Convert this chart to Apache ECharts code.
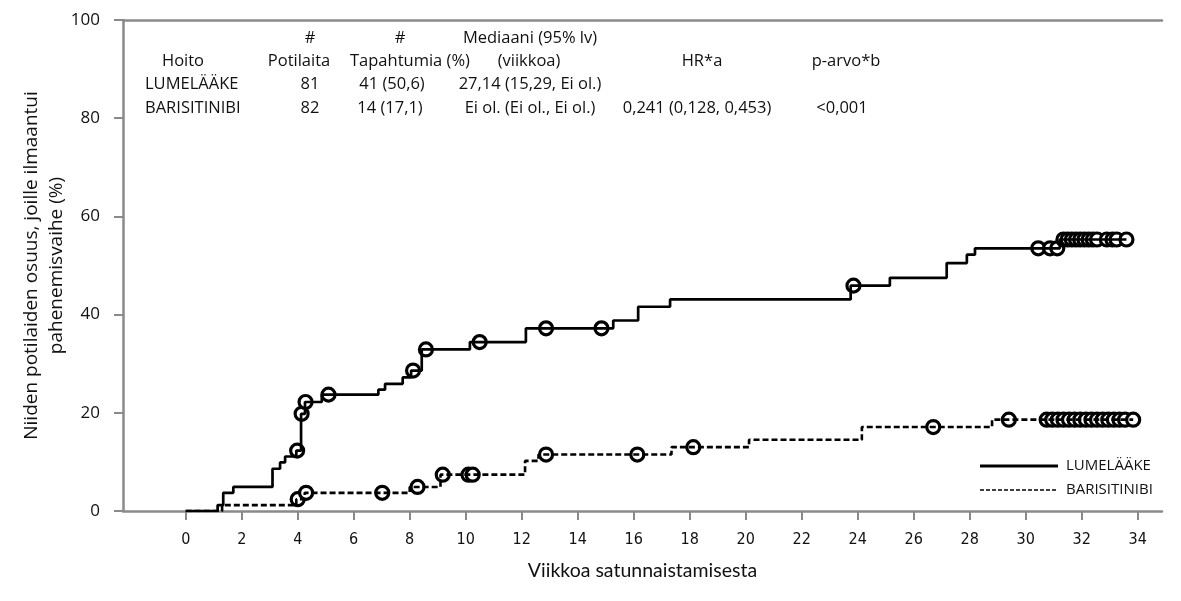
<!DOCTYPE html>
<html>
<head>
<meta charset="utf-8">
<script src="https://cdn.jsdelivr.net/npm/echarts@6/dist/echarts.min.js"></script>
<style>
html,body{margin:0;padding:0;background:#fff;}
#chart{width:1181px;height:601px;}
</style>
</head>
<body>
<div id="chart"></div>
<script>
// ---- data ----
const xTicks = [0,2,4,6,8,10,12,14,16,18,20,22,24,26,28,30,32,34];
const yTicks = [0,20,40,60,80,100];

// Kaplan-Meier steps: [week, cumulative %]
const lumeSteps = [[0,0],[1.14,1.2],[1.34,3.7],[1.7,4.9],[3.1,8.6],[3.37,9.9],[3.55,11.1],[3.95,12.3],[4.12,19.8],[4.26,22.2],[4.86,23.7],[6.88,24.7],[7.12,25.9],[7.75,27.2],[8.05,28.6],[8.43,32.9],[10.15,34.4],[12.15,37.2],[15.27,38.8],[16.16,41.6],[17.3,43.1],[23.75,45.9],[25.15,47.5],[27.18,50.5],[27.9,52.2],[28.19,53.5],[31.22,55.3],[33.6,55.3]];
const bariSteps = [[0,0],[1.3,1.2],[3.95,2.4],[4.25,3.7],[8.0,4.9],[9.1,7.4],[12.12,10.2],[12.6,11.5],[17.35,13.0],[20.12,14.5],[24.15,17.1],[28.8,18.6],[33.84,18.6]];

// censored observations (weeks)
const lumeCensor = [3.98,4.14,4.28,5.1,8.12,8.58,10.5,12.87,14.85,23.85,30.45,30.87,31.13,31.35,31.5,31.65,31.8,31.95,32.1,32.25,32.4,32.55,32.9,33.1,33.25,33.6];
const bariCensor = [4.0,4.3,7.02,8.28,9.18,10.1,10.25,12.87,16.13,18.13,26.7,29.4,30.75,30.95,31.15,31.35,31.55,31.75,31.95,32.15,32.35,32.55,32.75,32.95,33.15,33.35,33.55,33.84];

const seriesNames = ['LUMELÄÄKE','BARISITINIBI'];

// risk table
const tableHead1 = ['', '#', '#', 'Mediaani (95% lv)', '', ''];
const tableHead2 = ['Hoito', 'Potilaita', 'Tapahtumia (%)', '(viikkoa)', 'HR*a', 'p-arvo*b'];
const rowLume = ['LUMELÄÄKE', '81', '41 (50,6)', '27,14 (15,29, Ei ol.)', '', ''];
const rowBari = ['BARISITINIBI', '82', '14 (17,1)', 'Ei ol. (Ei ol., Ei ol.)', '0,241 (0,128, 0,453)', '<0,001'];

const xTitle = 'Viikkoa satunnaistamisesta';
const yTitle = 'Niiden potilaiden osuus, joille ilmaantui\npahenemisvaihe (%)';

// ---- helpers ----
function valueAt(steps, t){
  let v = 0;
  for (const s of steps){ if (s[0] <= t) v = s[1]; }
  return v;
}
const lumeCensorPts = lumeCensor.map(t => [t, valueAt(lumeSteps, t)]);
const bariCensorPts = bariCensor.map(t => [t, valueAt(bariSteps, t)]);

const FONT = '"Open Sans", "Noto Sans", sans-serif';
const NARROW = '"DejaVu Sans Condensed", "Liberation Sans Narrow", Lato, sans-serif';
const TXT = '#111';
const AX = '#8a8a8a';
const tableFont = 16.5;

// table layout (pixel positions of cells)
const colX = [
  {h1:null, h2:[183,'center'], r1:[145,'left'], r2:[145,'left']},
  {h1:[310,'center'], h2:[299,'center'], r1:[310,'center'], r2:[310,'center']},
  {h1:[400,'center'], h2:[350,'left'], r1:[392,'center'], r2:[390,'center']},
  {h1:[530,'center'], h2:[529,'center'], r1:[530,'center'], r2:[530,'center']},
  {h1:null, h2:[702,'center'], r1:null, r2:[697,'center']},
  {h1:null, h2:[846,'center'], r1:null, r2:[842,'center']}
];
const rowY = {h1:38, h2:61, r1:84, r2:108};
const rowsText = {h1:tableHead1, h2:tableHead2, r1:rowLume, r2:rowBari};
const graphics = [];
for (let c = 0; c < colX.length; c++){
  for (const key of ['h1','h2','r1','r2']){
    const txt = rowsText[key][c];
    const pos = colX[c][key];
    if (!txt || !pos) continue;
    graphics.push({
      type:'text', x:pos[0], y:rowY[key],
      style:{text:txt, fill:TXT, font:`${tableFont}px ${FONT}`, textAlign:pos[1], textVerticalAlign:'middle'}
    });
  }
}
// legend (drawn manually)
const legendRows = [
  {y:466, lw:3, dash:null},
  {y:490, lw:1.5, dash:[4,2]}
];
legendRows.forEach((r, i) => {
  graphics.push({type:'line', shape:{x1:980, y1:r.y, x2:1058, y2:r.y},
    style:{stroke:'#000', lineWidth:r.lw, lineDash:r.dash}});
  graphics.push({type:'text', x:1066, y:r.y,
    style:{text:seriesNames[i], fill:TXT, font:`15px ${FONT}`, textAlign:'left', textVerticalAlign:'middle'}});
});

const chart = echarts.init(document.getElementById('chart'));
chart.setOption({
  animation:false,
  backgroundColor:'#fff',
  grid:{left:123, right:19, top:20, bottom:90},
  xAxis:[{
    type:'value', min:-2.24, max:34.87, position:'bottom',
    name:xTitle, nameLocation:'middle', nameGap:50, nameMoveOverlap:false,
    nameTextStyle:{fontFamily:'Lato', fontSize:19.5, color:TXT},
    axisLine:{onZero:false, lineStyle:{color:AX, width:2.5}},
    axisTick:{show:true, customValues:xTicks, length:9, lineStyle:{color:AX, width:2}},
    axisLabel:{customValues:xTicks, fontFamily:NARROW, fontSize:16, color:TXT, margin:21},
    splitLine:{show:false}
  },{
    type:'value', min:-2.24, max:34.87, position:'top',
    axisLine:{show:true, onZero:false, lineStyle:{color:AX, width:2.5}},
    axisTick:{show:false}, axisLabel:{show:false}, splitLine:{show:false}
  }],
  yAxis:{
    type:'value', min:0, max:100, interval:20,
    name:yTitle, nameLocation:'middle', nameGap:54, nameRotate:90, nameMoveOverlap:false,
    nameTextStyle:{fontFamily:FONT, fontSize:19, color:TXT, lineHeight:25},
    axisLine:{show:true, onZero:false, lineStyle:{color:AX, width:2.5}},
    axisTick:{show:true, length:9, lineStyle:{color:AX, width:2}},
    axisLabel:{fontFamily:FONT, fontSize:17, color:TXT, margin:23},
    splitLine:{show:false}
  },
  graphic:graphics,
  series:[
    {name:seriesNames[0], type:'line', step:'end', data:lumeSteps, symbol:'none', z:3,
     lineStyle:{color:'#000', width:2.7, type:'solid'}, itemStyle:{color:'#000'}},
    {name:seriesNames[1], type:'line', step:'end', data:bariSteps, symbol:'none', z:3,
     lineStyle:{color:'#000', width:2.6, type:[6,3]}, itemStyle:{color:'#000'}},
    {name:'lume-censor', type:'scatter', data:lumeCensorPts, symbol:'circle', symbolSize:13, z:2,
     itemStyle:{color:'#fff', borderColor:'#000', borderWidth:3.2, opacity:1}},
    {name:'bari-censor', type:'scatter', data:bariCensorPts, symbol:'circle', symbolSize:13, z:2,
     itemStyle:{color:'#fff', borderColor:'#000', borderWidth:3.2, opacity:1}}
  ]
});
</script>
</body>
</html>
